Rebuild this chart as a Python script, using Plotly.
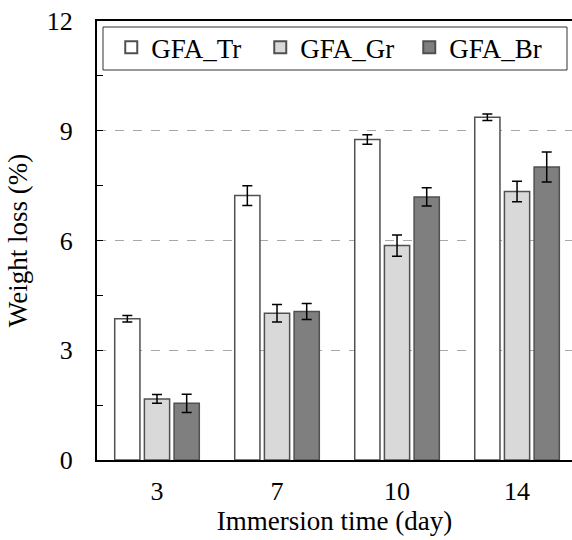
import plotly.graph_objects as go

categories = ["3", "7", "10", "14"]
series_names = ["GFA_Tr", "GFA_Gr", "GFA_Br"]
tr_values = [3.86, 7.23, 8.76, 9.37]
tr_errors = [0.09, 0.27, 0.13, 0.09]
gr_values = [1.67, 4.01, 5.86, 7.34]
gr_errors = [0.12, 0.24, 0.29, 0.28]
br_values = [1.55, 4.06, 7.19, 8.01]
br_errors = [0.25, 0.22, 0.25, 0.41]
y_ticks = [0, 3, 6, 9, 12]

colors = ["#ffffff", "#d9d9d9", "#7f7f7f"]
FONT = "Liberation Serif, Times New Roman, serif"

fig = go.Figure()
for name, vals, errs, col in zip(series_names, [tr_values, gr_values, br_values],
                                 [tr_errors, gr_errors, br_errors], colors):
    fig.add_trace(go.Bar(
        name=name, x=categories, y=vals,
        marker=dict(color=col, line=dict(color="#505050", width=1.5)),
        error_y=dict(type="data", array=errs, visible=True, color="#000000",
                     thickness=1.5, width=5),
    ))

fig.update_layout(
    width=572, height=540,
    margin=dict(l=97, r=0, t=21, b=80),
    paper_bgcolor="white", plot_bgcolor="white",
    barmode="group", bargap=0.258, bargroupgap=0.15,
    font=dict(family=FONT, size=26, color="#000000"),
    showlegend=True,
    legend=dict(orientation="h", x=0.03, xanchor="left", y=0.995, yanchor="top",
                bgcolor="rgba(0,0,0,0)", borderwidth=0,
                font=dict(family=FONT, size=27, color="#000000"),
                entrywidth=104, entrywidthmode="pixels", itemsizing="constant"),
    xaxis=dict(
        type="category", range=[-0.5, 3.458],
        showline=True, linecolor="#000000", linewidth=2, mirror=True,
        ticks="", showgrid=False,
        tickfont=dict(family=FONT, size=26),
        ticklabelstandoff=7,
        title=dict(text="Immersion time (day)", font=dict(family=FONT, size=27), standoff=6),
    ),
    yaxis=dict(
        range=[0, 12], tickvals=y_ticks,
        showline=True, linecolor="#000000", linewidth=2,
        ticks="inside", ticklen=6, tickwidth=1, tickcolor="#000000",
        ticklabelstandoff=17,
        showgrid=True, gridcolor="#a8a8a8", griddash="dash", gridwidth=1,
        zeroline=False,
        minor=dict(dtick=1.5, tick0=0, ticks="inside", ticklen=6, tickwidth=1,
                   tickcolor="#000000", showgrid=False),
        tickfont=dict(family=FONT, size=26),
        title=dict(text="Weight loss (%)", font=dict(family=FONT, size=27), standoff=11),
    ),
    shapes=[dict(type="rect", xref="paper", yref="paper",
                 x0=6 / 475, x1=470 / 475, y0=1 - 49 / 439, y1=1 - 6 / 439,
                 line=dict(color="#333333", width=1), fillcolor="rgba(0,0,0,0)")],
)

fig.write_html("out.html")
